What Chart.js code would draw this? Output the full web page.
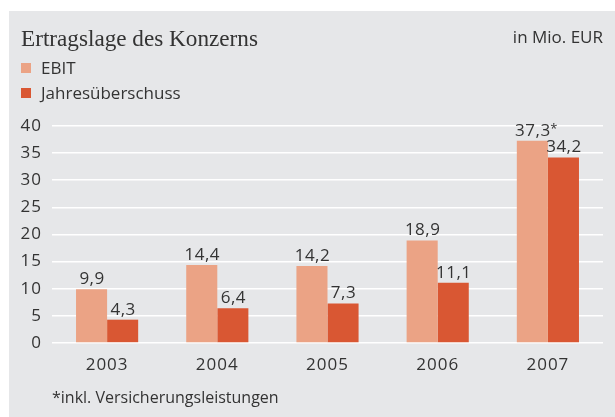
<!DOCTYPE html>
<html>
<head>
<meta charset="utf-8">
<script src="https://cdn.jsdelivr.net/npm/chart.js@4/dist/chart.umd.min.js"></script>
<style>
  html, body { margin: 0; padding: 0; background: #ffffff; }
  #wrap { position: relative; width: 615px; height: 417px; overflow: hidden; }
  #panel { position: absolute; left: 9px; top: 11px; width: 606px; height: 406px; background: #E6E7E9; }
  #c { position: absolute; left: 0; top: 0; }
  .txt { position: absolute; color: #333333; font-family: "Open Sans", sans-serif; font-size: 17px; line-height: 17px; white-space: nowrap; }
  #title { left: 21px; top: 27px; font-family: "Liberation Serif", serif; font-size: 23.2px; line-height: 23.5px; }
  #unit { right: 12px; top: 28px; }
  #foot { left: 52px; top: 389px; font-size: 16px; }
  .lg { position: absolute; left: 21px; }
  .lg .sw { position: absolute; left: 0; width: 10px; height: 10px; }
  .lg .lt { position: absolute; left: 20px; top: -4px; color: #333333; font-family: "Open Sans", sans-serif; font-size: 17px; line-height: 17px; white-space: nowrap; }
</style>
</head>
<body>
<div id="wrap">
  <div id="panel"></div>
  <canvas id="c" width="615" height="417"></canvas>
  <div id="title" class="txt">Ertragslage des Konzerns</div>
  <div id="unit" class="txt">in Mio. EUR</div>
  <div id="legend"></div>
  <div id="foot" class="txt">*inkl. Versicherungsleistungen</div>
</div>
<script>
// ---- data ----
const categories = ['2003', '2004', '2005', '2006', '2007'];
const seriesNames = ['EBIT', 'Jahresüberschuss'];
const ebit = [9.9, 14.4, 14.2, 18.9, 37.3];
const jahresueberschuss = [4.3, 6.4, 7.3, 11.1, 34.2];
const ebitNotes = ['', '', '', '', '*'];
const jahresNotes = ['', '', '', '', ''];
const yTickValues = [0, 5, 10, 15, 20, 25, 30, 35, 40];

// ---- styles ----
const colors = ['#EBA385', '#D95733'];
const textColor = '#333333';
const sansFont = '"Open Sans", sans-serif';

function fmt(v) { return v.toFixed(1).replace('.', ','); }

const spacing = {
  id: 'spacing',
  beforeDraw(chart) { chart.ctx.letterSpacing = '1px'; }
};

const valueLabels = {
  id: 'valueLabels',
  afterDatasetsDraw(chart) {
    const ctx = chart.ctx;
    ctx.save();
    ctx.letterSpacing = '0.5px';
    ctx.fillStyle = textColor;
    ctx.textBaseline = 'alphabetic';
    chart.data.datasets.forEach((ds, di) => {
      const meta = chart.getDatasetMeta(di);
      meta.data.forEach((el, i) => {
        const txt = fmt(ds.data[i]);
        ctx.font = '17px ' + sansFont;
        ctx.textAlign = 'center';
        ctx.fillText(txt, el.x + 0.5, el.y - 5);
        const note = ds.notes[i];
        if (note) {
          const w = ctx.measureText(txt).width;
          ctx.font = '13px ' + sansFont;
          ctx.textAlign = 'left';
          ctx.fillText(note, el.x + w / 2, el.y - 8);
        }
      });
    });
    ctx.restore();
  }
};

const chart = new Chart(document.getElementById('c'), {
  type: 'bar',
  data: {
    labels: categories,
    datasets: [
      { label: seriesNames[0], data: ebit, notes: ebitNotes, backgroundColor: colors[0], borderWidth: 0 },
      { label: seriesNames[1], data: jahresueberschuss, notes: jahresNotes, backgroundColor: colors[1], borderWidth: 0 }
    ]
  },
  options: {
    responsive: false,
    animation: false,
    devicePixelRatio: 1,
    layout: { padding: { left: 0, right: 12, top: 126, bottom: 34 } },
    datasets: { bar: { categoryPercentage: 0.564, barPercentage: 1.0 } },
    plugins: { legend: { display: false }, tooltip: { enabled: false }, title: { display: false } },
    scales: {
      x: {
        grid: { display: false, drawTicks: false },
        border: { display: false },
        ticks: { color: textColor, font: { family: sansFont, size: 17 }, padding: 12 },
        afterFit(scale) { scale.height = 40; }
      },
      y: {
        min: 0, max: 40,
        afterBuildTicks(scale) { scale.ticks = yTickValues.map(v => ({ value: v })); },
        grid: { color: '#ffffff', lineWidth: 1.6, drawTicks: false },
        border: { display: false },
        ticks: { color: textColor, font: { family: sansFont, size: 17 }, padding: 10 },
        afterFit(scale) { scale.width = 52; }
      }
    }
  },
  plugins: [spacing, valueLabels]
});

// legend built from the chart's datasets
const lgTops = [63, 87.5];
const legendEl = document.getElementById('legend');
chart.data.datasets.forEach((ds, i) => {
  const row = document.createElement('div');
  row.className = 'lg';
  row.style.top = lgTops[i] + 'px';
  const sw = document.createElement('div');
  sw.className = 'sw';
  sw.style.background = ds.backgroundColor;
  const lt = document.createElement('div');
  lt.className = 'lt';
  lt.textContent = ds.label;
  row.appendChild(sw);
  row.appendChild(lt);
  legendEl.appendChild(row);
});
</script>
</body>
</html>
